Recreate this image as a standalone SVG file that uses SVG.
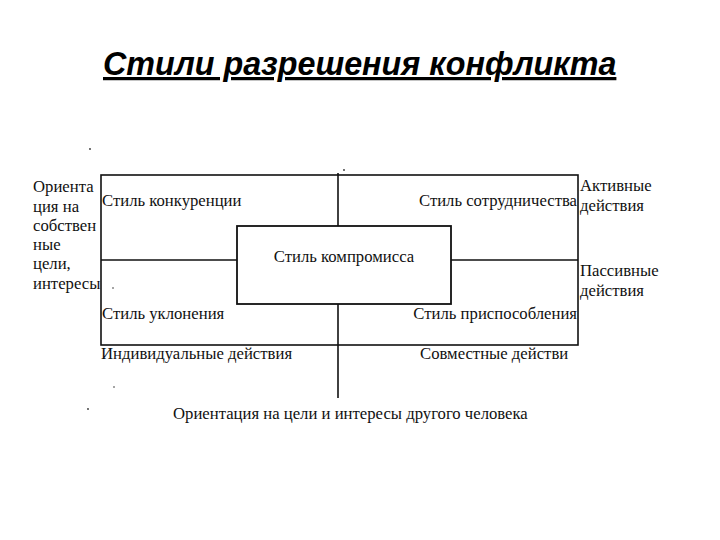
<svg xmlns="http://www.w3.org/2000/svg" width="720" height="540" viewBox="0 0 720 540">
<style>
.t{font-family:"Liberation Serif","Times New Roman",serif;font-size:16.7px;fill:#111}
.ln{stroke:#111;stroke-width:1.6;fill:none}
.title{font-family:"Liberation Sans",Arial,sans-serif;font-size:32.3px;font-weight:bold;font-style:italic;fill:#000;text-decoration:underline}
</style>
<rect width="720" height="540" fill="#fff"/>
<text class="title" x="103" y="75">Стили разрешения конфликта</text>
<g id="connectors">
<rect class="ln" x="101" y="175" width="477" height="170"/>
<line class="ln" x1="101" y1="260" x2="237" y2="260"/>
<line class="ln" x1="451" y1="260" x2="578" y2="260"/>
<line class="ln" x1="338" y1="173" x2="338" y2="226"/>
<line class="ln" x1="338" y1="304" x2="338" y2="398"/>
</g>
<g id="compromise">
<rect x="237" y="226" width="214" height="78" fill="#fff" stroke="#111" stroke-width="1.8"/>
<text class="t" x="344" y="262" text-anchor="middle">Стиль компромисса</text>
</g>
<g id="competition"><text class="t" x="102" y="206">Стиль конкуренции</text></g>
<g id="cooperation"><text class="t" x="577" y="206" text-anchor="end">Стиль сотрудничества</text></g>
<g id="avoidance"><text class="t" x="102" y="319">Стиль уклонения</text></g>
<g id="accommodation"><text class="t" x="577" y="319" text-anchor="end">Стиль приспособления</text></g>
<g id="own-goals">
<text class="t" x="33" y="192">Ориента</text>
<text class="t" x="33" y="212">ция на</text>
<text class="t" x="33" y="231">собствен</text>
<text class="t" x="33" y="250">ные</text>
<text class="t" x="33" y="269">цели,</text>
<text class="t" x="33" y="289">интересы</text>
</g>
<g id="active">
<text class="t" x="580" y="191">Активные</text>
<text class="t" x="580" y="211">действия</text>
</g>
<g id="passive">
<text class="t" x="580" y="276">Пассивные</text>
<text class="t" x="580" y="296">действия</text>
</g>
<g id="individual"><text class="t" x="101" y="359">Индивидуальные действия</text></g>
<g id="joint"><text class="t" x="420" y="359">Совместные действи</text></g>
<g id="other-goals"><text class="t" x="173" y="419">Ориентация на цели и интересы другого человека</text></g>
<g fill="#333">
<circle cx="90" cy="149" r="0.9"/>
<circle cx="344" cy="170" r="0.9"/>
<circle cx="114" cy="387" r="0.8"/>
<circle cx="88" cy="409" r="0.9"/>
<circle cx="113" cy="288" r="0.8"/>
</g>
</svg>
